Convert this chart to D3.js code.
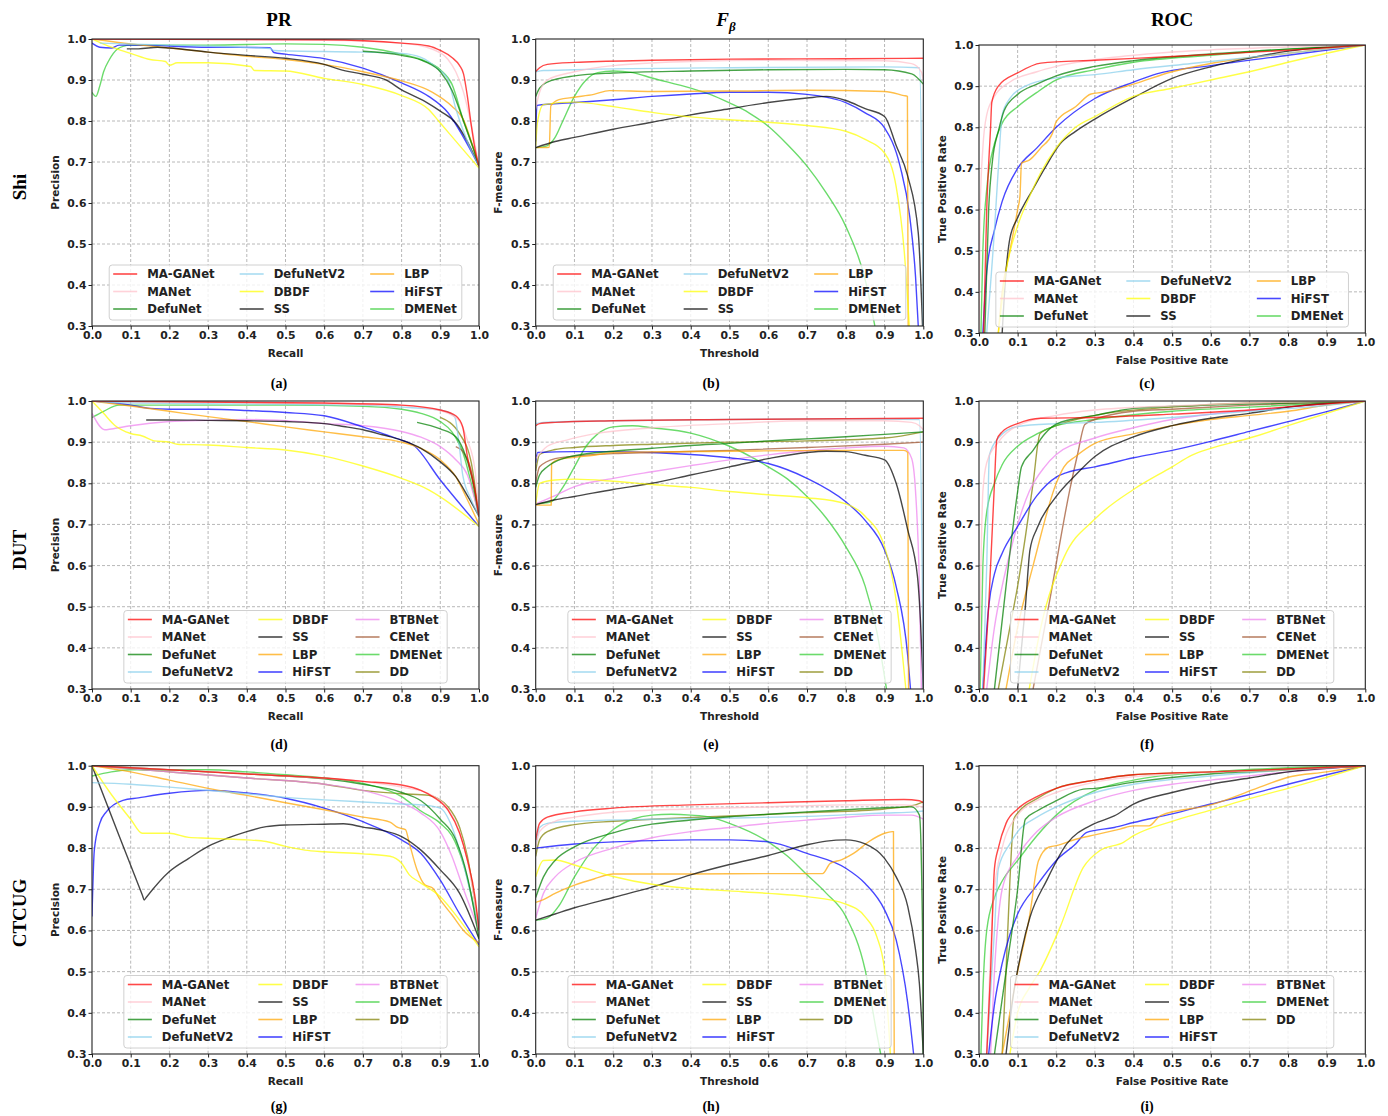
<!DOCTYPE html>
<html lang="en">
<head>
<meta charset="UTF-8">
<script src="https://d3js.org/d3.v7.min.js"></script>
<title>PR / F-measure / ROC</title>
<style>body{margin:0;background:#fff;}</style>
</head>
<body>
<div id="viz"></div>
<script>
// method names, in legend order, for each data set
const namesShi = ["MA-GANet", "MANet", "DefuNet", "DefuNetV2", "DBDF", "SS", "LBP", "HiFST", "DMENet"];
const namesDUT = ["MA-GANet", "MANet", "DefuNet", "DefuNetV2", "DBDF", "SS", "LBP", "HiFST", "BTBNet", "CENet", "DMENet", "DD"];
const namesCTCUG = ["MA-GANet", "MANet", "DefuNet", "DefuNetV2", "DBDF", "SS", "LBP", "HiFST", "BTBNet", "DMENet", "DD"];

const xTicks = [0, 0.1, 0.2, 0.3, 0.4, 0.5, 0.6, 0.7, 0.8, 0.9, 1.0];
const yTicks = [0.3, 0.4, 0.5, 0.6, 0.7, 0.8, 0.9, 1.0];

// ---- Shi ----
const shiPR = [
    [[0,1.0],[0.6,0.998],[0.8,0.99],[0.87,0.983],[0.9,0.972],[0.93,0.955],[0.95,0.935],[0.96,0.915],[0.97,0.86],[0.98,0.79],[0.99,0.73],[1.0,0.69]],
    [[0,1.0],[0.6,0.997],[0.8,0.99],[0.88,0.975],[0.92,0.95],[0.94,0.92],[0.96,0.87],[0.98,0.79],[1.0,0.69]],
    [[0.7,0.97],[0.8,0.96],[0.86,0.945],[0.9,0.92],[0.93,0.875],[0.96,0.8],[0.99,0.72],[1.0,0.69]],
    [[0.02,0.99],[0.2,0.985],[0.46,0.977],[0.47,0.972],[0.7,0.968],[0.8,0.965],[0.85,0.955],[0.89,0.93],[0.92,0.9],[0.94,0.83],[0.97,0.75],[1.0,0.69]],
    [[0,1.0],[0.05,0.98],[0.1,0.965],[0.15,0.95],[0.19,0.945],[0.2,0.936],[0.22,0.942],[0.3,0.942],[0.41,0.933],[0.42,0.923],[0.5,0.922],[0.6,0.904],[0.7,0.889],[0.8,0.862],[0.87,0.828],[0.9,0.795],[0.95,0.74],[1.0,0.685]],
    [[0.09,0.976],[0.12,0.976],[0.17,0.98],[0.2,0.978],[0.3,0.968],[0.4,0.96],[0.5,0.953],[0.6,0.938],[0.64,0.926],[0.7,0.914],[0.76,0.9],[0.8,0.876],[0.86,0.848],[0.9,0.824],[0.94,0.795],[0.97,0.75],[1.0,0.69]],
    [[0,1.0],[0.1,0.988],[0.2,0.978],[0.3,0.968],[0.4,0.958],[0.5,0.95],[0.6,0.938],[0.7,0.92],[0.8,0.898],[0.88,0.87],[0.93,0.836],[0.96,0.803],[0.98,0.75],[1.0,0.69]],
    [[0,0.99],[0.02,0.98],[0.05,0.978],[0.07,0.985],[0.1,0.985],[0.3,0.98],[0.46,0.979],[0.47,0.967],[0.5,0.963],[0.6,0.952],[0.7,0.929],[0.8,0.893],[0.87,0.86],[0.92,0.82],[0.96,0.76],[1.0,0.69]],
    [[0,0.87],[0.01,0.86],[0.02,0.885],[0.03,0.92],[0.045,0.95],[0.065,0.975],[0.08,0.982],[0.1,0.985],[0.3,0.985],[0.5,0.988],[0.6,0.987],[0.7,0.98],[0.8,0.963],[0.85,0.95],[0.9,0.925],[0.93,0.89],[0.96,0.8],[0.99,0.72],[1.0,0.69]]
];
const shiF = [
    [[0,0.921],[0.01,0.93],[0.03,0.938],[0.1,0.943],[0.3,0.948],[0.5,0.951],[0.8,0.952],[1.0,0.953]],
    [[0,0.83],[0.01,0.87],[0.03,0.9],[0.1,0.92],[0.2,0.935],[0.4,0.945],[0.6,0.948],[0.9,0.947],[0.97,0.94],[0.995,0.92],[1.0,0.9]],
    [[0,0.86],[0.01,0.88],[0.03,0.895],[0.1,0.91],[0.2,0.917],[0.4,0.922],[0.6,0.925],[0.8,0.926],[0.9,0.925],[0.97,0.915],[1.0,0.89]],
    [[0,0.92],[0.02,0.923],[0.1,0.925],[0.5,0.93],[0.9,0.932],[0.99,0.93],[0.997,0.6],[1.0,0.3]],
    [[0,0.74],[0.005,0.8],[0.02,0.84],[0.1,0.846],[0.2,0.835],[0.3,0.821],[0.4,0.81],[0.5,0.803],[0.6,0.797],[0.7,0.789],[0.8,0.775],[0.85,0.755],[0.9,0.722],[0.93,0.64],[0.951,0.48],[0.964,0.3]],
    [[0,0.735],[0.05,0.75],[0.1,0.76],[0.2,0.78],[0.3,0.797],[0.4,0.815],[0.5,0.83],[0.6,0.845],[0.7,0.856],[0.75,0.86],[0.8,0.85],[0.85,0.83],[0.9,0.811],[0.93,0.74],[0.96,0.665],[0.987,0.527],[0.998,0.3]],
    [[0,0.735],[0.035,0.736],[0.039,0.837],[0.06,0.852],[0.1,0.858],[0.15,0.865],[0.19,0.874],[0.3,0.872],[0.5,0.873],[0.7,0.875],[0.9,0.872],[0.95,0.862],[0.959,0.86],[0.961,0.3]],
    [[0,0.75],[0.003,0.838],[0.1,0.845],[0.2,0.852],[0.3,0.86],[0.4,0.866],[0.5,0.87],[0.6,0.87],[0.7,0.865],[0.8,0.845],[0.85,0.82],[0.9,0.783],[0.94,0.69],[0.965,0.567],[0.98,0.42],[0.987,0.3]],
    [[0,0.735],[0.03,0.74],[0.05,0.76],[0.07,0.8],[0.1,0.86],[0.13,0.9],[0.16,0.918],[0.2,0.922],[0.25,0.918],[0.3,0.905],[0.4,0.88],[0.45,0.865],[0.5,0.844],[0.55,0.82],[0.6,0.787],[0.65,0.742],[0.7,0.69],[0.75,0.624],[0.8,0.543],[0.85,0.413],[0.875,0.3]]
];
const shiROC = [
    [[0.012,0.3],[0.02,0.6],[0.03,0.8],[0.033,0.86],[0.05,0.9],[0.1,0.932],[0.16,0.956],[0.3,0.963],[0.5,0.972],[0.7,0.982],[0.85,0.99],[1,1]],
    [[0,0.3],[0.003,0.6],[0.01,0.75],[0.02,0.83],[0.04,0.875],[0.08,0.91],[0.15,0.935],[0.2,0.948],[0.4,0.975],[0.6,0.988],[0.8,0.995],[1,1]],
    [[0.015,0.3],[0.025,0.6],[0.035,0.72],[0.05,0.79],[0.065,0.84],[0.1,0.88],[0.15,0.905],[0.2,0.925],[0.3,0.948],[0.4,0.962],[0.6,0.978],[0.8,0.99],[1,1]],
    [[0.02,0.3],[0.04,0.55],[0.05,0.7],[0.06,0.83],[0.08,0.87],[0.12,0.9],[0.2,0.92],[0.3,0.928],[0.4,0.94],[0.55,0.955],[0.7,0.97],[0.85,0.985],[1,1]],
    [[0.05,0.3],[0.07,0.45],[0.1,0.56],[0.13,0.63],[0.16,0.69],[0.2,0.75],[0.25,0.8],[0.3,0.826],[0.4,0.875],[0.5,0.895],[0.6,0.915],[0.7,0.935],[0.8,0.958],[0.9,0.98],[1,1]],
    [[0.06,0.3],[0.07,0.45],[0.08,0.53],[0.1,0.58],[0.14,0.65],[0.17,0.7],[0.21,0.76],[0.25,0.79],[0.3,0.82],[0.4,0.872],[0.5,0.919],[0.6,0.947],[0.7,0.968],[0.8,0.985],[1,1]],
    [[0.05,0.3],[0.06,0.4],[0.08,0.5],[0.1,0.6],[0.106,0.632],[0.11,0.713],[0.13,0.72],[0.16,0.75],[0.19,0.785],[0.2,0.814],[0.25,0.85],[0.29,0.881],[0.32,0.885],[0.4,0.905],[0.5,0.935],[0.6,0.955],[0.8,0.98],[1,1]],
    [[0.01,0.3],[0.02,0.45],[0.04,0.55],[0.06,0.62],[0.1,0.7],[0.15,0.75],[0.2,0.8],[0.3,0.87],[0.4,0.91],[0.46,0.93],[0.6,0.95],[0.8,0.975],[1,1]],
    [[0.005,0.3],[0.01,0.5],[0.02,0.65],[0.04,0.76],[0.06,0.81],[0.1,0.85],[0.15,0.885],[0.2,0.915],[0.3,0.94],[0.4,0.958],[0.6,0.975],[0.8,0.99],[1,1]]
];

// ---- DUT ----
const dutPR = [
    [[0,1.0],[0.6,0.995],[0.8,0.99],[0.9,0.978],[0.94,0.964],[0.958,0.937],[0.97,0.865],[0.99,0.78],[1.0,0.72]],
    [[0,1.0],[0.77,0.99],[0.85,0.985],[0.92,0.97],[0.95,0.95],[0.97,0.905],[0.99,0.83],[1.0,0.72]],
    [[0.84,0.948],[0.9,0.932],[0.94,0.913],[0.96,0.88],[0.98,0.82],[1.0,0.72]],
    [[0,1.0],[0.1,0.995],[0.5,0.992],[0.7,0.99],[0.8,0.985],[0.9,0.978],[0.937,0.962],[0.948,0.9],[0.958,0.82],[0.98,0.76],[1.0,0.72]],
    [[0,1.0],[0.03,0.97],[0.06,0.94],[0.1,0.921],[0.13,0.915],[0.16,0.903],[0.2,0.9],[0.22,0.895],[0.3,0.893],[0.4,0.887],[0.5,0.881],[0.6,0.866],[0.7,0.842],[0.8,0.812],[0.87,0.784],[0.9,0.767],[1.0,0.695]],
    [[0.14,0.954],[0.2,0.954],[0.3,0.953],[0.4,0.952],[0.5,0.95],[0.6,0.945],[0.65,0.938],[0.7,0.93],[0.75,0.918],[0.8,0.905],[0.85,0.885],[0.9,0.852],[0.94,0.816],[0.97,0.77],[1.0,0.72]],
    [[0,1.0],[0.1,0.988],[0.2,0.975],[0.3,0.962],[0.4,0.95],[0.5,0.937],[0.6,0.925],[0.7,0.913],[0.8,0.9],[0.85,0.885],[0.9,0.857],[0.94,0.816],[0.97,0.76],[1.0,0.7]],
    [[0,1.0],[0.1,0.99],[0.15,0.982],[0.2,0.98],[0.3,0.98],[0.4,0.977],[0.5,0.972],[0.6,0.964],[0.7,0.937],[0.76,0.918],[0.8,0.905],[0.83,0.893],[0.9,0.808],[1.0,0.695]],
    [[0,0.97],[0.033,0.93],[0.05,0.932],[0.1,0.94],[0.2,0.95],[0.3,0.953],[0.4,0.955],[0.5,0.952],[0.6,0.945],[0.7,0.94],[0.8,0.926],[0.85,0.912],[0.9,0.889],[0.94,0.857],[0.97,0.82],[1.0,0.72]],
    [[0.94,0.889],[0.96,0.875],[0.98,0.83],[1.0,0.72]],
    [[0,0.96],[0.03,0.975],[0.07,0.99],[0.1,0.99],[0.3,0.99],[0.5,0.99],[0.7,0.987],[0.8,0.98],[0.85,0.97],[0.9,0.95],[0.93,0.925],[0.96,0.87],[0.98,0.8],[1.0,0.72]],
    [[0.9,0.96],[0.95,0.92],[0.98,0.85],[1.0,0.72]]
];
const dutF = [
    [[0,0.94],[0.01,0.945],[0.05,0.948],[0.2,0.952],[0.5,0.955],[0.8,0.957],[1.0,0.958]],
    [[0,0.86],[0.03,0.89],[0.08,0.905],[0.15,0.92],[0.3,0.935],[0.5,0.945],[0.7,0.952],[0.9,0.952],[0.97,0.948],[0.99,0.94],[1.0,0.93]],
    [[0,0.79],[0.01,0.82],[0.03,0.84],[0.07,0.86],[0.1,0.867],[0.2,0.878],[0.3,0.885],[0.4,0.892],[0.5,0.897],[0.6,0.903],[0.7,0.908],[0.8,0.913],[0.9,0.919],[1.0,0.925]],
    [[0,0.945],[0.02,0.948],[0.2,0.952],[0.5,0.955],[0.8,0.957],[0.99,0.955],[0.997,0.6],[1.0,0.3]],
    [[0,0.75],[0.01,0.8],[0.05,0.808],[0.1,0.81],[0.2,0.805],[0.3,0.797],[0.4,0.79],[0.5,0.78],[0.6,0.772],[0.7,0.765],[0.8,0.75],[0.85,0.72],[0.9,0.646],[0.93,0.516],[0.955,0.3]],
    [[0,0.748],[0.05,0.76],[0.1,0.768],[0.2,0.785],[0.3,0.8],[0.4,0.82],[0.5,0.84],[0.6,0.86],[0.7,0.875],[0.75,0.878],[0.8,0.877],[0.85,0.868],[0.9,0.857],[0.93,0.8],[0.96,0.686],[0.985,0.573],[0.993,0.46],[1.0,0.3]],
    [[0,0.747],[0.04,0.747],[0.041,0.848],[0.06,0.858],[0.1,0.863],[0.15,0.868],[0.2,0.875],[0.5,0.878],[0.8,0.88],[0.95,0.88],[0.96,0.875],[0.962,0.3]],
    [[0,0.85],[0.005,0.875],[0.1,0.877],[0.2,0.877],[0.3,0.875],[0.4,0.87],[0.5,0.862],[0.6,0.848],[0.7,0.812],[0.8,0.755],[0.85,0.71],[0.9,0.638],[0.93,0.549],[0.96,0.379],[0.967,0.3]],
    [[0,0.75],[0.05,0.77],[0.1,0.792],[0.2,0.812],[0.3,0.828],[0.4,0.843],[0.5,0.857],[0.6,0.869],[0.7,0.879],[0.8,0.886],[0.9,0.89],[0.95,0.886],[0.97,0.86],[0.98,0.78],[0.99,0.55],[0.995,0.3]],
    [[0,0.8],[0.01,0.84],[0.05,0.86],[0.1,0.866],[0.2,0.872],[0.3,0.875],[0.5,0.88],[0.7,0.887],[0.9,0.895],[1.0,0.9]],
    [[0,0.75],[0.04,0.755],[0.07,0.79],[0.1,0.84],[0.13,0.89],[0.16,0.92],[0.2,0.937],[0.25,0.94],[0.3,0.935],[0.4,0.922],[0.5,0.89],[0.57,0.857],[0.6,0.84],[0.65,0.81],[0.7,0.768],[0.75,0.715],[0.8,0.646],[0.85,0.55],[0.88,0.44],[0.905,0.3]],
    [[0,0.83],[0.01,0.87],[0.05,0.882],[0.1,0.887],[0.2,0.892],[0.3,0.895],[0.5,0.9],[0.7,0.903],[0.9,0.91],[1.0,0.925]]
];
const dutROC = [
    [[0.012,0.3],[0.025,0.5],[0.04,0.8],[0.046,0.905],[0.06,0.925],[0.1,0.945],[0.16,0.958],[0.3,0.96],[0.5,0.968],[0.7,0.978],[0.85,0.99],[1,1]],
    [[0,0.3],[0.005,0.6],[0.01,0.78],[0.02,0.85],[0.05,0.9],[0.1,0.94],[0.2,0.965],[0.3,0.978],[0.5,0.988],[0.7,0.995],[1,1]],
    [[0.04,0.3],[0.07,0.55],[0.1,0.78],[0.11,0.84],[0.14,0.88],[0.17,0.92],[0.2,0.944],[0.3,0.965],[0.4,0.982],[0.6,0.99],[0.8,0.995],[1,1]],
    [[0.01,0.3],[0.02,0.6],[0.027,0.869],[0.05,0.91],[0.1,0.938],[0.2,0.945],[0.3,0.948],[0.5,0.96],[0.7,0.975],[0.85,0.985],[1,1]],
    [[0.13,0.3],[0.16,0.45],[0.22,0.62],[0.3,0.713],[0.4,0.785],[0.5,0.84],[0.55,0.868],[0.6,0.885],[0.7,0.91],[0.8,0.94],[0.9,0.97],[1,1]],
    [[0.1,0.3],[0.12,0.5],[0.132,0.638],[0.15,0.69],[0.2,0.768],[0.25,0.82],[0.3,0.865],[0.4,0.913],[0.5,0.94],[0.6,0.958],[0.7,0.97],[0.8,0.985],[1,1]],
    [[0.07,0.3],[0.1,0.45],[0.14,0.6],[0.2,0.8],[0.22,0.84],[0.25,0.865],[0.3,0.897],[0.4,0.92],[0.5,0.94],[0.6,0.955],[0.7,0.965],[0.8,0.975],[0.9,0.99],[1,1]],
    [[0.01,0.3],[0.025,0.5],[0.04,0.58],[0.06,0.63],[0.1,0.695],[0.15,0.77],[0.2,0.815],[0.227,0.826],[0.3,0.84],[0.4,0.862],[0.5,0.88],[0.6,0.902],[0.7,0.926],[0.8,0.95],[0.9,0.974],[1,1]],
    [[0.02,0.3],[0.04,0.45],[0.06,0.55],[0.08,0.63],[0.1,0.7],[0.13,0.78],[0.17,0.84],[0.2,0.87],[0.3,0.91],[0.4,0.935],[0.5,0.955],[0.6,0.968],[0.8,0.985],[1,1]],
    [[0.14,0.3],[0.18,0.5],[0.235,0.784],[0.255,0.87],[0.274,0.943],[0.3,0.955],[0.4,0.975],[0.5,0.98],[0.7,0.99],[1,1]],
    [[0.003,0.3],[0.01,0.6],[0.02,0.73],[0.04,0.8],[0.06,0.845],[0.1,0.89],[0.15,0.92],[0.2,0.94],[0.3,0.955],[0.5,0.975],[0.7,0.985],[1,1]],
    [[0.05,0.3],[0.08,0.45],[0.1,0.55],[0.12,0.67],[0.14,0.8],[0.158,0.921],[0.2,0.94],[0.3,0.965],[0.5,0.985],[0.7,0.995],[1,1]]
];

// ---- CTCUG ----
const ctcugPR = [
    [[0,1.0],[0.2,0.99],[0.4,0.98],[0.6,0.97],[0.7,0.962],[0.8,0.953],[0.85,0.94],[0.88,0.925],[0.92,0.892],[0.95,0.836],[0.97,0.771],[0.99,0.68],[1.0,0.6]],
    [[0,1.0],[0.2,0.99],[0.5,0.975],[0.7,0.962],[0.8,0.948],[0.87,0.932],[0.92,0.895],[0.95,0.84],[0.97,0.77],[1.0,0.6]],
    [[0,1.0],[0.1,0.995],[0.3,0.985],[0.5,0.975],[0.6,0.968],[0.7,0.955],[0.8,0.935],[0.85,0.915],[0.9,0.87],[0.94,0.82],[0.97,0.73],[1.0,0.58]],
    [[0,0.959],[0.1,0.955],[0.2,0.948],[0.3,0.94],[0.4,0.932],[0.5,0.923],[0.6,0.917],[0.7,0.912],[0.8,0.907],[0.86,0.904],[0.9,0.897],[0.93,0.852],[0.96,0.76],[1.0,0.6]],
    [[0,1.0],[0.05,0.93],[0.1,0.87],[0.13,0.836],[0.2,0.836],[0.25,0.826],[0.3,0.824],[0.35,0.822],[0.4,0.82],[0.45,0.816],[0.5,0.804],[0.55,0.795],[0.6,0.791],[0.7,0.786],[0.77,0.78],[0.8,0.763],[0.82,0.735],[0.85,0.715],[0.9,0.682],[0.95,0.625],[1.0,0.56]],
    [[0,1.0],[0.07,0.83],[0.13,0.686],[0.135,0.674],[0.14,0.68],[0.2,0.743],[0.25,0.775],[0.3,0.804],[0.35,0.824],[0.4,0.84],[0.45,0.852],[0.5,0.856],[0.6,0.858],[0.65,0.859],[0.7,0.851],[0.75,0.843],[0.8,0.828],[0.85,0.795],[0.9,0.747],[0.95,0.69],[1.0,0.58]],
    [[0,1.0],[0.1,0.985],[0.2,0.965],[0.3,0.945],[0.4,0.928],[0.5,0.91],[0.6,0.893],[0.7,0.875],[0.77,0.863],[0.79,0.85],[0.81,0.845],[0.82,0.812],[0.84,0.747],[0.86,0.711],[0.88,0.703],[0.9,0.674],[0.93,0.638],[0.96,0.6],[1.0,0.57]],
    [[0,0.634],[0.006,0.795],[0.02,0.86],[0.037,0.888],[0.08,0.916],[0.12,0.922],[0.2,0.933],[0.3,0.94],[0.4,0.934],[0.5,0.921],[0.6,0.897],[0.7,0.864],[0.8,0.82],[0.85,0.787],[0.9,0.722],[0.95,0.64],[1.0,0.565]],
    [[0,1.0],[0.2,0.985],[0.4,0.97],[0.6,0.955],[0.7,0.94],[0.8,0.91],[0.85,0.885],[0.9,0.84],[0.93,0.78],[0.96,0.7],[1.0,0.6]],
    [[0,0.975],[0.05,0.985],[0.1,0.99],[0.3,0.99],[0.4,0.985],[0.5,0.978],[0.6,0.97],[0.7,0.957],[0.8,0.925],[0.85,0.89],[0.9,0.86],[0.93,0.83],[0.96,0.76],[1.0,0.6]],
    [[0,1.0],[0.2,0.985],[0.4,0.97],[0.6,0.955],[0.7,0.94],[0.8,0.932],[0.87,0.928],[0.92,0.9],[0.95,0.85],[0.97,0.78],[1.0,0.6]]
];
const ctcugF = [
    [[0,0.82],[0.01,0.86],[0.03,0.875],[0.1,0.888],[0.2,0.897],[0.4,0.905],[0.6,0.91],[0.8,0.915],[0.95,0.918],[0.99,0.915],[1.0,0.91]],
    [[0,0.8],[0.01,0.84],[0.05,0.865],[0.1,0.875],[0.2,0.887],[0.4,0.895],[0.6,0.9],[0.8,0.905],[0.95,0.905],[1.0,0.9]],
    [[0,0.68],[0.02,0.73],[0.05,0.77],[0.1,0.803],[0.2,0.837],[0.3,0.858],[0.4,0.868],[0.5,0.876],[0.6,0.882],[0.7,0.888],[0.8,0.893],[0.9,0.898],[0.97,0.9],[0.99,0.88],[0.998,0.6],[1.0,0.3]],
    [[0,0.8],[0.01,0.85],[0.03,0.86],[0.1,0.865],[0.3,0.87],[0.5,0.873],[0.7,0.877],[0.9,0.885],[0.98,0.888],[1.0,0.89]],
    [[0,0.73],[0.02,0.77],[0.05,0.771],[0.1,0.759],[0.2,0.731],[0.3,0.712],[0.4,0.702],[0.5,0.696],[0.6,0.69],[0.7,0.682],[0.8,0.664],[0.85,0.633],[0.88,0.585],[0.9,0.504],[0.915,0.3]],
    [[0,0.625],[0.05,0.64],[0.1,0.655],[0.2,0.68],[0.3,0.705],[0.4,0.735],[0.5,0.76],[0.6,0.782],[0.7,0.808],[0.75,0.817],[0.8,0.82],[0.85,0.81],[0.9,0.775],[0.93,0.73],[0.96,0.658],[0.98,0.553],[0.99,0.47],[1.0,0.3]],
    [[0,0.668],[0.02,0.675],[0.05,0.69],[0.1,0.71],[0.15,0.725],[0.2,0.737],[0.4,0.737],[0.6,0.738],[0.74,0.738],[0.76,0.763],[0.79,0.772],[0.82,0.787],[0.86,0.816],[0.9,0.836],[0.92,0.84],[0.923,0.84],[0.925,0.3]],
    [[0,0.8],[0.1,0.81],[0.2,0.815],[0.3,0.818],[0.4,0.82],[0.5,0.82],[0.6,0.815],[0.7,0.787],[0.8,0.751],[0.85,0.714],[0.9,0.65],[0.93,0.577],[0.96,0.423],[0.975,0.3]],
    [[0,0.63],[0.02,0.69],[0.05,0.73],[0.1,0.765],[0.2,0.8],[0.3,0.825],[0.4,0.84],[0.5,0.85],[0.6,0.86],[0.7,0.868],[0.8,0.875],[0.9,0.88],[0.97,0.88],[1.0,0.87]],
    [[0,0.625],[0.03,0.63],[0.06,0.66],[0.1,0.73],[0.15,0.8],[0.2,0.845],[0.25,0.87],[0.3,0.88],[0.35,0.882],[0.4,0.88],[0.45,0.875],[0.5,0.86],[0.6,0.815],[0.65,0.78],[0.7,0.735],[0.75,0.69],[0.8,0.634],[0.85,0.504],[0.88,0.35],[0.89,0.3]],
    [[0,0.78],[0.01,0.82],[0.03,0.84],[0.1,0.857],[0.2,0.865],[0.3,0.87],[0.5,0.878],[0.7,0.886],[0.9,0.895],[0.98,0.905],[1.0,0.912]]
];
const ctcugROC = [
    [[0.02,0.3],[0.03,0.5],[0.04,0.75],[0.05,0.8],[0.07,0.86],[0.1,0.895],[0.15,0.925],[0.2,0.945],[0.3,0.965],[0.4,0.978],[0.6,0.985],[0.8,0.992],[1,1]],
    [[0.02,0.3],[0.03,0.55],[0.04,0.7],[0.06,0.8],[0.1,0.88],[0.15,0.915],[0.2,0.935],[0.3,0.96],[0.5,0.98],[0.8,0.99],[1,1]],
    [[0.04,0.3],[0.07,0.5],[0.1,0.7],[0.12,0.87],[0.15,0.89],[0.2,0.915],[0.27,0.943],[0.3,0.945],[0.4,0.96],[0.6,0.98],[0.8,0.99],[1,1]],
    [[0.02,0.3],[0.04,0.6],[0.05,0.75],[0.08,0.81],[0.1,0.84],[0.15,0.875],[0.2,0.9],[0.3,0.935],[0.4,0.955],[0.6,0.975],[0.8,0.99],[1,1]],
    [[0.08,0.3],[0.1,0.4],[0.13,0.46],[0.158,0.502],[0.21,0.608],[0.27,0.753],[0.313,0.794],[0.374,0.814],[0.4,0.83],[0.5,0.865],[0.6,0.892],[0.7,0.92],[0.8,0.945],[0.9,0.972],[1,1]],
    [[0.07,0.3],[0.09,0.45],[0.11,0.55],[0.132,0.632],[0.175,0.721],[0.227,0.81],[0.296,0.858],[0.35,0.878],[0.4,0.907],[0.5,0.935],[0.6,0.955],[0.7,0.97],[0.8,0.985],[1,1]],
    [[0.06,0.3],[0.08,0.4],[0.1,0.5],[0.13,0.63],[0.154,0.769],[0.18,0.802],[0.2,0.806],[0.253,0.822],[0.3,0.832],[0.365,0.846],[0.4,0.854],[0.44,0.854],[0.47,0.879],[0.6,0.905],[0.736,0.951],[0.8,0.972],[0.9,0.985],[1,1]],
    [[0.025,0.3],[0.04,0.42],[0.06,0.52],[0.08,0.59],[0.1,0.64],[0.15,0.71],[0.2,0.77],[0.25,0.81],[0.279,0.838],[0.35,0.85],[0.4,0.862],[0.5,0.883],[0.6,0.907],[0.7,0.93],[0.8,0.955],[0.9,0.978],[1,1]],
    [[0.03,0.3],[0.04,0.5],[0.05,0.63],[0.06,0.7],[0.1,0.78],[0.15,0.84],[0.2,0.875],[0.3,0.915],[0.4,0.94],[0.5,0.955],[0.6,0.965],[0.8,0.985],[1,1]],
    [[0.005,0.3],[0.01,0.45],[0.02,0.6],[0.04,0.68],[0.06,0.72],[0.1,0.77],[0.15,0.83],[0.2,0.88],[0.3,0.94],[0.4,0.965],[0.6,0.985],[0.8,0.995],[1,1]],
    [[0.06,0.3],[0.07,0.5],[0.08,0.72],[0.09,0.87],[0.1,0.885],[0.15,0.92],[0.2,0.945],[0.3,0.965],[0.4,0.978],[0.6,0.985],[0.8,0.992],[1,1]]
];

// line colours (matplotlib named colours)
const colors = {
    "MA-GANet": "#ff0000", "MANet": "#ffc0cb", "DefuNet": "#008000", "DefuNetV2": "#87ceeb",
    "DBDF": "#ffff00", "SS": "#000000", "LBP": "#ffa500", "HiFST": "#0000ff",
    "BTBNet": "#ee82ee", "CENet": "#a0522d", "DMENet": "#32cd32", "DD": "#808000"
};

// panel frames
const cols = [[92, 479], [535.7, 923.3], [979, 1365.3]];
const rows = [[39, 326], [401, 689], [765.7, 1054]];

const panels = [
    {data: shiPR, names: namesShi, c: 0, r: 0, xl: "Recall", yl: "Precision"},
    {data: shiF, names: namesShi, c: 1, r: 0, xl: "Threshold", yl: "F-measure"},
    {data: shiROC, names: namesShi, c: 2, r: 0, xl: "False Positive Rate", yl: "True Positive Rate", top: 45, bottom: 333},
    {data: dutPR, names: namesDUT, c: 0, r: 1, xl: "Recall", yl: "Precision"},
    {data: dutF, names: namesDUT, c: 1, r: 1, xl: "Threshold", yl: "F-measure"},
    {data: dutROC, names: namesDUT, c: 2, r: 1, xl: "False Positive Rate", yl: "True Positive Rate"},
    {data: ctcugPR, names: namesCTCUG, c: 0, r: 2, xl: "Recall", yl: "Precision"},
    {data: ctcugF, names: namesCTCUG, c: 1, r: 2, xl: "Threshold", yl: "F-measure"},
    {data: ctcugROC, names: namesCTCUG, c: 2, r: 2, xl: "False Positive Rate", yl: "True Positive Rate"}
];

const svg = d3.select("#viz")
    .append("svg")
    .attr("width", 1388)
    .attr("height", 1116)
    .style("font-family", "'DejaVu Sans', sans-serif");

const fmt = d3.format(".1f");

panels.forEach(function (p, i) {
    const x0 = cols[p.c][0], x1 = cols[p.c][1];
    const y0 = p.top || rows[p.r][0], y1 = p.bottom || rows[p.r][1];

    const x = d3.scaleLinear().domain([0, 1]).range([x0, x1]);
    const y = d3.scaleLinear().domain([0.3, 1]).range([y1, y0]);

    const g = svg.append("g");

    // grid
    g.append("g").selectAll("line")
        .data(xTicks.slice(1, -1))
        .join("line")
        .attr("x1", d => x(d)).attr("x2", d => x(d))
        .attr("y1", y0).attr("y2", y1)
        .attr("stroke", "#b0b0b0").attr("stroke-width", 0.9)
        .attr("stroke-dasharray", "3,2");
    g.append("g").selectAll("line")
        .data(yTicks.slice(1, -1))
        .join("line")
        .attr("y1", d => y(d)).attr("y2", d => y(d))
        .attr("x1", x0).attr("x2", x1)
        .attr("stroke", "#b0b0b0").attr("stroke-width", 0.9)
        .attr("stroke-dasharray", "3,2");

    // curves
    const clipId = "clip" + i;
    svg.append("clipPath").attr("id", clipId)
        .append("rect")
        .attr("x", x0).attr("y", y0)
        .attr("width", x1 - x0).attr("height", y1 - y0);

    const line = d3.line()
        .x(d => x(d[0]))
        .y(d => y(d[1]))
        .curve(d3.curveMonotoneX);

    const series = p.names.map((n, k) => ({name: n, pts: p.data[k]})).reverse();
    g.append("g")
        .attr("clip-path", `url(#${clipId})`)
        .selectAll("path")
        .data(series)
        .join("path")
        .attr("d", d => line(d.pts))
        .attr("fill", "none")
        .attr("stroke", d => colors[d.name])
        .attr("stroke-opacity", 0.72)
        .attr("stroke-width", 1.4);

    // axes
    const ax = g.append("g")
        .attr("transform", `translate(0, ${y1})`)
        .call(d3.axisBottom(x).tickValues(xTicks).tickFormat(fmt).tickSize(3.5).tickPadding(2));
    const ay = g.append("g")
        .attr("transform", `translate(${x0}, 0)`)
        .call(d3.axisLeft(y).tickValues(yTicks).tickFormat(fmt).tickSize(3.5).tickPadding(2));
    [ax, ay].forEach(a => {
        a.select(".domain").remove();
        a.attr("font-size", null).attr("font-family", null);
        a.selectAll("text")
            .style("font-size", "10.8px")
            .style("font-weight", "bold")
            .attr("fill", "#222");
        a.selectAll("line").attr("stroke", "#222");
    });

    g.append("rect")
        .attr("x", x0).attr("y", y0)
        .attr("width", x1 - x0).attr("height", y1 - y0)
        .attr("fill", "none").attr("stroke", "#222").attr("stroke-width", 1.1);

    // axis labels
    g.append("text")
        .attr("x", (x0 + x1) / 2).attr("y", y1 + 27)
        .attr("text-anchor", "middle").attr("dy", "0.35em")
        .style("font-size", "10.5px").style("font-weight", "bold").attr("fill", "#222")
        .text(p.xl);
    g.append("text")
        .attr("transform", `translate(${x0 - 37}, ${(y0 + y1) / 2}) rotate(-90)`)
        .attr("text-anchor", "middle").attr("dy", "0.35em")
        .style("font-size", "10.5px").style("font-weight", "bold").attr("fill", "#222")
        .text(p.yl);

    // legend, lower center, 3 columns
    const n = p.names.length;
    const nrows = Math.ceil(n / 3);
    const lg = g.append("g");
    const box = lg.append("rect");
    const items = p.names.map((name, k) => {
        const t = lg.append("text")
            .style("font-size", "11.7px").style("font-weight", "bold")
            .attr("fill", "#222").attr("dy", "0.35em")
            .text(name);
        return {name: name, col: Math.floor(k / nrows), row: k % nrows, t: t, w: t.node().getComputedTextLength()};
    });
    const colW = [0, 1, 2].map(c => d3.max(items.filter(d => d.col === c), d => d.w) || 0);
    const pad = 4, handle = 24, gap = 10, colGap = 25;
    const colX = [];
    let cx = pad;
    colW.forEach((w, c) => { colX.push(cx); cx += handle + gap + w + (c < 2 ? colGap : 0); });
    const boxW = cx + 5;
    const boxH = 9 + (nrows - 1) * 17.5 + 11;
    const bx = (x0 + x1) / 2 - boxW / 2;
    const by = y1 - 6 - boxH;
    box.attr("x", bx).attr("y", by).attr("width", boxW).attr("height", boxH)
        .attr("rx", 3).attr("fill", "#fff").attr("fill-opacity", 0.8)
        .attr("stroke", "#d0d0d0").attr("stroke-width", 1);
    items.forEach(d => {
        const ly = by + 9 + d.row * 17.5;
        const lx = bx + colX[d.col];
        lg.append("line")
            .attr("x1", lx).attr("x2", lx + handle)
            .attr("y1", ly).attr("y2", ly)
            .attr("stroke", colors[d.name]).attr("stroke-opacity", 0.72).attr("stroke-width", 1.6);
        d.t.attr("x", lx + handle + gap).attr("y", ly);
    });
});

// column titles
const serif = "'Liberation Serif', 'Times New Roman', serif";
svg.append("text").attr("x", 279).attr("y", 19).attr("dy", "0.35em")
    .attr("text-anchor", "middle").style("font-family", serif)
    .style("font-size", "19px").style("font-weight", "bold").text("PR");
const fb = svg.append("text").attr("x", 726).attr("y", 19).attr("dy", "0.35em")
    .attr("text-anchor", "middle").style("font-family", serif)
    .style("font-size", "19px").style("font-weight", "bold").style("font-style", "italic");
fb.append("tspan").text("F");
fb.append("tspan").attr("dy", "5").style("font-size", "13px").text("β");
svg.append("text").attr("x", 1172).attr("y", 19).attr("dy", "0.35em")
    .attr("text-anchor", "middle").style("font-family", serif)
    .style("font-size", "19px").style("font-weight", "bold").text("ROC");

// row titles
[["Shi", 187], ["DUT", 550], ["CTCUG", 913]].forEach(r => {
    svg.append("text")
        .attr("transform", `translate(19, ${r[1]}) rotate(-90)`)
        .attr("text-anchor", "middle").attr("dy", "0.35em")
        .style("font-family", serif).style("font-size", "19px").style("font-weight", "bold")
        .text(r[0]);
});

// sub-figure letters
const letters = ["(a)", "(b)", "(c)", "(d)", "(e)", "(f)", "(g)", "(h)", "(i)"];
const letterX = [279, 711, 1147];
const letterY = [383, 744, 1106];
letters.forEach((l, k) => {
    svg.append("text")
        .attr("x", letterX[k % 3]).attr("y", letterY[Math.floor(k / 3)])
        .attr("dy", "0.35em").attr("text-anchor", "middle")
        .style("font-family", serif).style("font-size", "14px").style("font-weight", "bold")
        .text(l);
});
</script>
</body>
</html>
